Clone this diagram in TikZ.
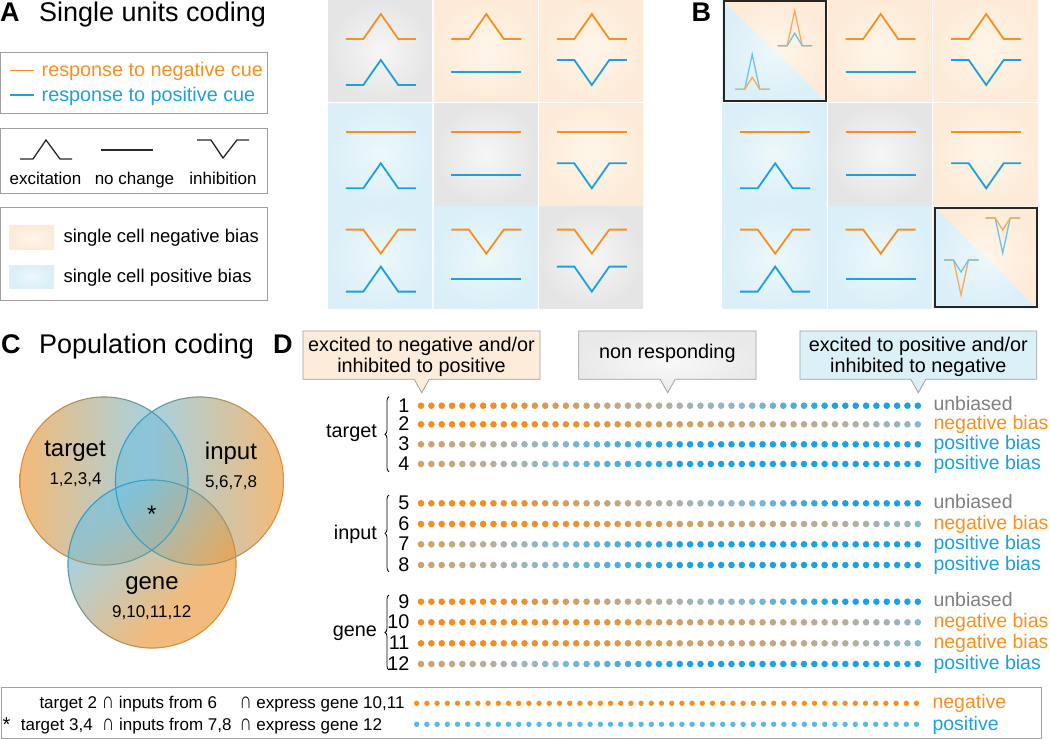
\documentclass[tikz,border=0pt]{standalone}
\usepackage{fontspec}
\usepackage{graphicx}
\setmainfont{Liberation Sans}
\usetikzlibrary{decorations.pathreplacing}
\definecolor{cor}{RGB}{247,144,30}
\definecolor{cbl}{RGB}{28,160,222}
\definecolor{cgrayin}{RGB}{246,246,246}
\definecolor{cgrayout}{RGB}{229,229,229}
\definecolor{corgin}{RGB}{254,246,234}
\definecolor{corgout}{RGB}{253,235,216}
\definecolor{cbluin}{RGB}{236,248,251}
\definecolor{cbluout}{RGB}{219,239,248}
\definecolor{c0}{RGB}{246,140,28}
\definecolor{c1}{RGB}{208,160,100}
\definecolor{c2}{RGB}{180,175,160}
\definecolor{c3}{RGB}{135,185,205}
\definecolor{c4}{RGB}{28,162,225}
\colorlet{c5}{c4}
\definecolor{vor}{RGB}{233,158,70}
\definecolor{vbl}{RGB}{125,192,218}
\definecolor{vbor}{RGB}{235,140,40}
\definecolor{vbbl}{RGB}{40,160,210}
\definecolor{lgray}{RGB}{160,160,160}
\definecolor{calorg}{RGB}{253,236,218}
\definecolor{calblu}{RGB}{220,240,248}
\definecolor{cunb}{RGB}{128,128,128}
\definecolor{pkor}{RGB}{245,172,85}
\definecolor{pkbl}{RGB}{110,195,230}
\definecolor{botbl}{RGB}{88,185,232}
\definecolor{icon}{RGB}{40,40,40}
\pgfdeclarehorizontalshading{vennLR}{100bp}{color(0bp)=(vor); color(27bp)=(vor); color(66bp)=(vbl); color(100bp)=(vbl)}
\pgfdeclarehorizontalshading{vennRL}{100bp}{color(0bp)=(vbl); color(34bp)=(vbl); color(73bp)=(vor); color(100bp)=(vor)}
\pgfdeclarehorizontalshading{vennG}{100bp}{color(0bp)=(vbl); color(30bp)=(vbl); color(64bp)=(vor); color(100bp)=(vor)}
\newcommand\capsym{\scalebox{1}[1.35]{∩}}

\newcommand\trEx[4]{\draw[#4] (#1,#2) -- ++(17.5,0) -- ++(17.5,-#3) -- ++(17.5,#3) -- ++(17.5,0);}
\newcommand\trIn[4]{\draw[#4] (#1,#2) -- ++(17.5,0) -- ++(17.5,#3) -- ++(17.5,-#3) -- ++(17.5,0);}
\newcommand\trFl[3]{\draw[#3] (#1,#2) -- ++(70,0);}
\newcommand\otre[2]{\trEx{#1+17.5}{#2+39}{25}{tro}}
\newcommand\otrf[2]{\trFl{#1+17.5}{#2+29}{tro}}
\newcommand\otri[2]{\trIn{#1+17.5}{#2+23}{24}{tro}}
\newcommand\btre[2]{\trEx{#1+17.5}{#2+85}{25}{trb}}
\newcommand\btrf[2]{\trFl{#1+17.5}{#2+72}{trb}}
\newcommand\btri[2]{\trIn{#1+17.5}{#2+60}{25}{trb}}
\newcommand\gcell[5]{%
  \shade[inner color=c#3in, outer color=c#3out] (#1,#2) rectangle ++(103.8,101.7);
  \csname otr#4\endcsname{#1}{#2}%
  \csname btr#5\endcsname{#1}{#2}}
\newcommand\spk[4]{\draw[#4] (#1,#2) -- ++(9.5,0) -- ++(7.5,-#3) -- ++(7.5,#3) -- ++(10,0);}
\newcommand\sdp[4]{\draw[#4] (#1,#2) -- ++(9.5,0) -- ++(7.5,#3) -- ++(7.5,-#3) -- ++(10,0);}
\newcommand\dotrow[2]{%
  \foreach \i in {0,...,48}{%
    \pgfmathsetmacro\tt{#2}%
    \pgfmathtruncatemacro\kk{floor(\tt)}%
    \pgfmathtruncatemacro\kn{\kk+1}%
    \pgfmathsetmacro\pc{100*(1-(\tt-\kk))}%
    \colorlet{dc}{c\kk!\pc!c\kn}%
    \fill[dc] ({421+\i*10.35},#1) circle (3.3);
  }}

\begin{document}
\begin{tikzpicture}[x=1pt,y=-1pt,
  tro/.style={cor, line width=1.8pt},
  trb/.style={cbl, line width=1.8pt},
  boxline/.style={draw=lgray, line width=1pt},
  t17/.style={font=\fontsize{17}{19}\selectfont, inner sep=0pt},
  t18/.style={font=\fontsize{18.5}{20}\selectfont, inner sep=0pt},
  t19/.style={font=\fontsize{19.5}{20}\selectfont, inner sep=0pt},
  t20/.style={font=\fontsize{19.8}{21}\selectfont, inner sep=0pt},
  t24/.style={font=\fontsize{24}{26}\selectfont, inner sep=0pt},
  ttl/.style={font=\fontsize{27}{29}\selectfont, inner sep=0pt, anchor=base west},
  let/.style={font=\fontsize{27}{29}\selectfont\bfseries, inner sep=0pt, anchor=base west},
  iconline/.style={icon, line width=1.3pt},
  bracestyle/.style={decorate, decoration={brace, amplitude=4pt}, line width=0.8pt}]
\useasboundingbox (0,0) rectangle (1050,739);

% ---------- Panel A titles and legends
\node[let] (la) at (0,21.7) {A};
\node[ttl] (ta) at (39,21.7) {Single units coding};

\draw[boxline] (0.7,52.3) rectangle (267,113.3);
\coordinate (l1a) at (10,70.5); \coordinate (l1b) at (34,70.5);
\draw[cor, line width=1.6pt] (l1a) -- (l1b);
\node[t20, anchor=base west, text=cor] (lg1) at (41.5,76.5) {response to negative cue};
\coordinate (l2a) at (10,95); \coordinate (l2b) at (34,95);
\draw[cbl, line width=1.6pt] (l2a) -- (l2b);
\node[t20, anchor=base west, text=cbl] (lg2) at (41.5,101) {response to positive cue};

\draw[boxline] (0.7,128.3) rectangle (267,193.3);
\draw[iconline] (20,159) -- (33,159) -- (46,140) -- (60,159) -- (72,159);
\draw[iconline] (101,150) -- (153,150);
\draw[iconline] (197,140) -- (211,140) -- (223,158) -- (237,140) -- (249,140);
\node[t17, anchor=base] (ex) at (45.5,184) {excitation};
\node[t17, anchor=base] (nc) at (134.5,184) {no change};
\node[t17, anchor=base] (inh) at (223,184) {inhibition};

\draw[boxline] (0.7,207.7) rectangle (267,300);
\shade[inner color=corgin, outer color=corgout] (9.3,225) rectangle (54,249.3);
\shade[inner color=cbluin, outer color=cbluout] (9.3,265) rectangle (54,288.7);
\node[t18, anchor=base west] (lgn) at (63.3,242.5) {single cell negative bias};
\node[t18, anchor=base west] (lgp) at (63.3,282) {single cell positive bias};

% ---------- Panel A grid
\gcell{328.3}{0}{gray}{e}{e}
\gcell{433.8}{0}{org}{e}{f}
\gcell{539.3}{0}{org}{e}{i}
\gcell{328.3}{103.3}{blu}{f}{e}
\gcell{433.8}{103.3}{gray}{f}{f}
\gcell{539.3}{103.3}{org}{f}{i}
\gcell{328.3}{206.6}{blu}{i}{e}
\gcell{433.8}{206.6}{blu}{i}{f}
\gcell{539.3}{206.6}{gray}{i}{i}

% ---------- Panel B
\node[let] (lb) at (691.5,21.7) {B};
\shade[inner color=corgin, outer color=corgout] (722.7,0) -- (826.5,0) -- (826.5,101.7) -- cycle;
\shade[inner color=cbluin, outer color=cbluout] (722.7,0) -- (722.7,101.7) -- (826.5,101.7) -- cycle;
\spk{777.7}{45.7}{35}{pkor, line width=1.3pt}
\spk{777.7}{45.7}{12.5}{pkbl, line width=1.3pt}
\spk{735.2}{89.3}{35}{pkbl, line width=1.3pt}
\spk{735.2}{89.3}{12}{pkor, line width=1.3pt}
\draw[black!85, line width=2pt] (723.7,1) rectangle (825.5,100.7);
\gcell{828.2}{0}{org}{e}{f}
\gcell{933.7}{0}{org}{e}{i}
\gcell{722.7}{103.3}{blu}{f}{e}
\gcell{828.2}{103.3}{gray}{f}{f}
\gcell{933.7}{103.3}{org}{f}{i}
\gcell{722.7}{206.6}{blu}{i}{e}
\gcell{828.2}{206.6}{blu}{i}{f}
\shade[inner color=corgin, outer color=corgout] (933.7,206.6) -- (1037.5,206.6) -- (1037.5,308.3) -- cycle;
\shade[inner color=cbluin, outer color=cbluout] (933.7,206.6) -- (933.7,308.3) -- (1037.5,308.3) -- cycle;
\sdp{985.7}{218}{35}{pkbl, line width=1.3pt}
\sdp{985.7}{218}{12}{pkor, line width=1.3pt}
\sdp{944}{260}{35}{pkor, line width=1.3pt}
\sdp{944}{260}{12}{pkbl, line width=1.3pt}
\draw[black!85, line width=2pt] (934.7,207.6) rectangle (1036.5,307.3);

% ---------- Panel C
\node[let] (lc) at (1,353.3) {C};
\node[ttl] (tc) at (39,353.3) {Population coding};
\shade[shading=vennLR, opacity=0.7] (104,481) circle (84);
\shade[shading=vennRL, opacity=0.7] (199.5,481) circle (84);
\shade[shading=vennG, shading angle=-45, opacity=0.7] (152,564) circle (84);
\shade[left color=vbor, right color=vbbl, even odd rule] (104,481) circle (84.6) circle (83.5);
\shade[left color=vbbl, right color=vbor, even odd rule] (199.5,481) circle (84.6) circle (83.5);
\shade[top color=vbbl, bottom color=vbor, shading angle=45, even odd rule] (152,564) circle (84.6) circle (83.5);
\node[t24] (vt) at (75,451) {target};
\node[t17] (vtn) at (75.5,480) {1,2,3,4};
\node[t24] (vi) at (231,453) {input};
\node[t17] (vin) at (231,482.7) {5,6,7,8};
\node[t24] (vs) at (151.7,514) {*};
\node[t24] (vg) at (152,586) {gene};
\node[t17] (vgn) at (151.7,613) {9,10,11,12};

% ---------- Panel D
\node[let] (ld) at (273,353.3) {D};
\filldraw[fill=calorg, draw=lgray, line width=0.8pt] (303,331) -- (540,331) -- (540,379.3) -- (429.3,379.3) -- (421.7,392.7) -- (414.3,379.3) -- (303,379.3) -- cycle;
\shadedraw[inner color=gray!5, outer color=gray!17, draw=lgray, line width=0.8pt] (578.7,331) -- (756,331) -- (756,379.3) -- (675.2,379.3) -- (667.7,392.7) -- (660.2,379.3) -- (578.7,379.3) -- cycle;
\filldraw[fill=calblu, draw=lgray, line width=0.8pt] (800,331) -- (1036.7,331) -- (1036.7,379.3) -- (925.8,379.3) -- (918.3,392.7) -- (910.8,379.3) -- (800,379.3) -- cycle;
\node[t20, anchor=base] (co1a) at (421.5,351.5) {excited to negative and/or};
\node[t20, anchor=base] (co1b) at (421.5,372) {inhibited to positive};
\node[t20] (co2) at (667.3,353.3) {non responding};
\node[t20, anchor=base] (co3a) at (918.3,351.5) {excited to positive and/or};
\node[t20, anchor=base] (co3b) at (918.3,372) {inhibited to negative};

% dot rows
\foreach \yy in {405.7,503.3,601.7}{\dotrow{\yy}{min(4,max(0,(\i-6)/8.5))}}
\foreach \yy in {424.3,524,622.3,643.3}{\dotrow{\yy}{\i<=26 ? max(0,(\i-8)/18) : (\i<=42 ? 1+(\i-26)/16 : 2+(\i-42)/6)}}
\foreach \yy in {444.3,464,544.3,565,664}{\dotrow{\yy}{\i<=7 ? 1+\i/7 : (\i<=13 ? 2+(\i-7)/6 : min(4,3+(\i-13)/12))}}

\foreach \n/\yy in {1/405.7,2/424.3,3/444.3,4/464,5/503.3,6/524,7/544.3,8/565,9/601.7,10/622.3,11/643.3,12/664}{
  \node[t20, anchor=base east] (num\n) at (409.5,\yy+6.5) {\n};}
\foreach \n/\yy/\lab/\col in {1/405.7/unbiased/cunb,2/424.3/negative bias/cor,3/444.3/positive bias/cbl,4/464/positive bias/cbl,
  5/503.3/unbiased/cunb,6/524/negative bias/cor,7/544.3/positive bias/cbl,8/565/positive bias/cbl,
  9/601.7/unbiased/cunb,10/622.3/negative bias/cor,11/643.3/negative bias/cor,12/664/positive bias/cbl}{
  \node[t19, anchor=base west, text=\col] (rl\n) at (933.3,\yy+5) {\lab};}
\coordinate (bt1) at (389,471.7); \coordinate (bt2) at (389,396.7);
\coordinate (bi1) at (389,571.7); \coordinate (bi2) at (389,495);
\coordinate (bg1) at (389,670); \coordinate (bg2) at (389,595);
\draw[bracestyle] (bt1) -- (bt2);
\draw[bracestyle] (bi1) -- (bi2);
\draw[bracestyle] (bg1) -- (bg2);
\node[t20, anchor=base east] (gt) at (377,437) {target};
\node[t20, anchor=base east] (gi) at (377,539) {input};
\node[t20, anchor=base east] (gg) at (377,636.7) {gene};

% ---------- bottom box
\draw[boxline] (1,687.3) rectangle (1041,738.3);
\node[t17, anchor=base west] (bt1a) at (39.3,708.3) {target 2 \capsym\ inputs from 6};
\node[t17, anchor=base west] (bt1b) at (239.3,708.3) {\capsym\ express gene 10,11};
\node[t17, anchor=base west] (bst) at (2.5,731.5) {\fontsize{20}{20}\selectfont *};
\node[t17, anchor=base west] (bt2a) at (20.7,730.7) {target 3,4\ \ \capsym\ inputs from 7,8};
\node[t17, anchor=base west] (bt2b) at (239.3,730.7) {\capsym\ express gene 12};
\foreach \i in {0,...,49}{
  \fill[cor] ({416.7+\i*10.2},703.3) circle (2.7);
  \fill[botbl] ({416.7+\i*10.2},724.3) circle (2.7);}
\node[t19, anchor=base west, text=cor] (bneg) at (932.3,708.3) {negative};
\node[t19, anchor=base west, text=cbl] (bpos) at (932.3,730.7) {positive};
\end{tikzpicture}
\end{document}
